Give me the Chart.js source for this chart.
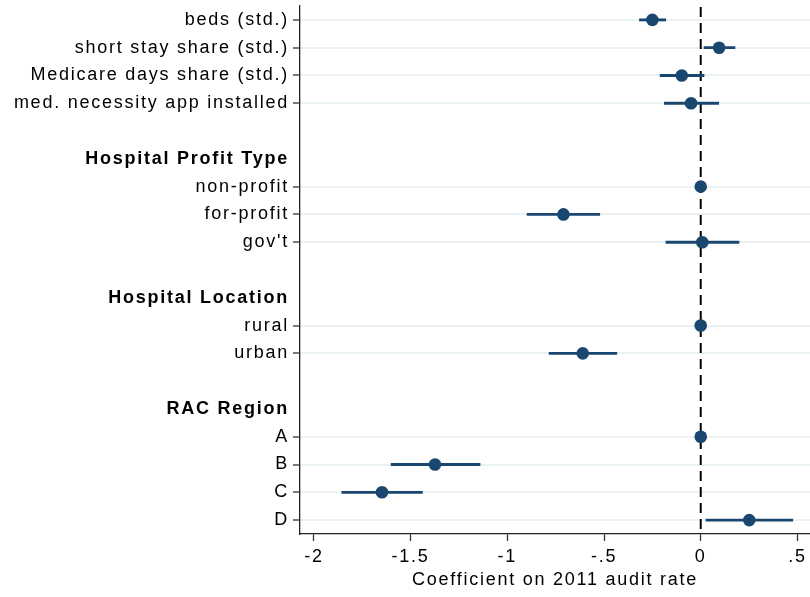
<!DOCTYPE html>
<html>
<head>
<meta charset="utf-8">
<script src="https://cdn.jsdelivr.net/npm/chart.js@4"></script>
<style>
  html, body { margin: 0; padding: 0; background: #fff; }
  #wrap { width: 810px; height: 597px; }
</style>
</head>
<body>
<div id="wrap"><canvas id="c" width="810" height="597"></canvas></div>
<script>
// Coefficient plot rows, top to bottom; '' rows are spacers
const rowLabels = [
  'beds (std.)', 'short stay share (std.)', 'Medicare days share (std.)',
  'med. necessity app installed', '',
  'Hospital Profit Type', 'non-profit', 'for-profit', "gov't", '',
  'Hospital Location', 'rural', 'urban', '',
  'RAC Region', 'A', 'B', 'C', 'D'
];
const groupHeaders = ['Hospital Profit Type', 'Hospital Location', 'RAC Region'];

// Point estimates (null = no estimate on that row; base categories sit at 0)
const coef = [
  -0.250, 0.095, -0.098, -0.050, null,
  null, 0, -0.710, 0.008, null,
  null, 0, -0.610, null,
  null, 0, -1.374, -1.648, 0.251
];
// 95% confidence interval bounds
const ciLow = [
  -0.317, 0.017, -0.210, -0.188, null,
  null, null, -0.898, -0.180, null,
  null, null, -0.784, null,
  null, null, -1.601, -1.856, 0.027
];
const ciHigh = [
  -0.181, 0.177, 0.017, 0.093, null,
  null, null, -0.522, 0.198, null,
  null, null, -0.434, null,
  null, null, -1.141, -1.439, 0.476
];
const xTicks = [-2, -1.5, -1, -0.5, 0, 0.5];

const NAVY = '#1a476f';
const GRID = '#e9f1f3';
const FONT = '"Liberation Sans", Arial, Helvetica, sans-serif';
const SPACING = '1.75px';

const isData = i => rowLabels[i] !== '' && !groupHeaders.includes(rowLabels[i]);
const isHeader = i => groupHeaders.includes(rowLabels[i]);

const ciData = ciLow.map((lo, i) => (lo === null ? null : [lo, ciHigh[i]]));

// slightly tracked-out text, applied before measuring and before drawing
const tracking = {
  id: 'tracking',
  beforeUpdate(chart) { chart.ctx.letterSpacing = SPACING; },
  beforeLayout(chart) { chart.ctx.letterSpacing = SPACING; },
  beforeDraw(chart) { chart.ctx.letterSpacing = SPACING; }
};

// vertical dashed reference line at zero
const zeroLine = {
  id: 'zeroLine',
  beforeDatasetsDraw(chart) {
    const { ctx, chartArea, scales } = chart;
    const x = scales.x.getPixelForValue(0);
    ctx.save();
    ctx.strokeStyle = '#000';
    ctx.lineWidth = 2;
    ctx.setLineDash([10, 6]);
    ctx.beginPath();
    ctx.moveTo(x, chartArea.top + 1);
    ctx.lineTo(x, chartArea.bottom);
    ctx.stroke();
    ctx.restore();
  }
};

new Chart(document.getElementById('c'), {
  type: 'bar',
  data: {
    labels: rowLabels,
    datasets: [
      {
        type: 'bar',
        data: ciData,
        backgroundColor: NAVY,
        borderWidth: 0,
        barThickness: 2.2,
        order: 2
      },
      {
        type: 'line',
        data: coef,
        showLine: false,
        pointRadius: 6.3,
        pointBackgroundColor: NAVY,
        pointBorderWidth: 0,
        borderColor: NAVY,
        order: 1
      }
    ]
  },
  options: {
    indexAxis: 'y',
    responsive: false,
    animation: false,
    layout: { autoPadding: false, padding: { top: 6, right: 0, left: 0, bottom: 0 } },
    plugins: { legend: { display: false }, tooltip: { enabled: false } },
    scales: {
      x: {
        type: 'linear',
        min: -2.072,
        max: 0.565,
        afterBuildTicks(scale) {
          scale.ticks = xTicks.map(v => ({ value: v }));
        },
        afterFit(scale) {
          scale.height = 63;
          scale.paddingLeft = 0;
          scale.paddingRight = 0;
        },
        border: { display: true, color: '#222', width: 1.3 },
        grid: { drawOnChartArea: false, tickLength: 7, tickColor: '#333', tickWidth: 1.3 },
        ticks: {
          color: '#000',
          padding: 5,
          font: { family: FONT, size: 18 },
          callback: v => String(v).replace(/^(-?)0\./, '$1.')
        },
        title: {
          display: true,
          text: 'Coefficient on 2011 audit rate',
          color: '#000',
          font: { family: FONT, size: 18 },
          padding: { top: 0, bottom: 6 }
        }
      },
      y: {
        type: 'category',
        offset: true,
        afterFit(scale) {
          scale.width = 300;
          scale.paddingTop = 0;
          scale.paddingBottom = 0;
        },
        border: { display: true, color: '#222', width: 1.3 },
        grid: {
          offset: false,
          lineWidth: 2,
          tickLength: 7,
          color: ctx => (isData(ctx.index) ? GRID : 'rgba(0,0,0,0)'),
          tickColor: ctx => (isData(ctx.index) ? '#333' : 'rgba(0,0,0,0)'),
          tickWidth: 1.3
        },
        ticks: {
          autoSkip: false,
          color: '#000',
          padding: 4,
          font: ctx => ({ family: FONT, size: 18, weight: isHeader(ctx.index) ? 'bold' : 'normal' })
        }
      }
    }
  },
  plugins: [tracking, zeroLine]
});
</script>
</body>
</html>
